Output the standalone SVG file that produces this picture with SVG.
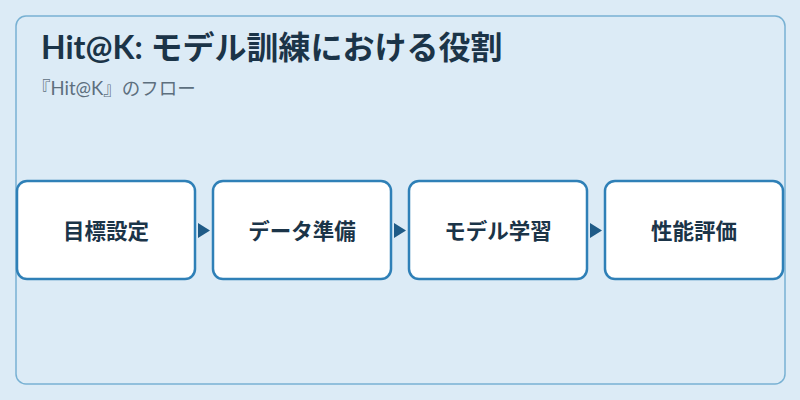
<svg xmlns="http://www.w3.org/2000/svg" width="800" height="400" viewBox="0 0 800 400">
<defs>
<style>
.frame{fill:#dcebf6;stroke:#78b1d3;stroke-width:1.5}
.node{fill:#ffffff;stroke:#2f80b7;stroke-width:2.5}
.lbl{font-family:Lato,"Noto Sans CJK JP",sans-serif;font-size:21.5px;font-weight:bold;fill:#1b3448;text-anchor:middle;dominant-baseline:central}
.title{font-family:Lato,"Noto Sans CJK JP",sans-serif;font-size:32px;font-weight:bold;fill:#1b3448}
.sub{font-family:Lato,"Noto Sans CJK JP",sans-serif;font-size:18.5px;fill:#5d6f7e}
.arrow{fill:#1f5b87}
</style>
</defs>
<rect x="0" y="0" width="800" height="400" fill="#dcebf6"/>
<rect class="frame" x="16" y="16" width="769" height="368" rx="10"/>
<text class="title" x="41" y="59">Hit@K: モデル訓練における役割</text>
<text class="sub" x="32" y="95">『Hit@K』のフロー</text>
<g id="connectors">
<polygon class="arrow" points="198,223 210,230.5 198,238"/>
<polygon class="arrow" points="394,223 406,230.5 394,238"/>
<polygon class="arrow" points="590,223 602,230.5 590,238"/>
</g>
<g id="n1"><rect class="node" x="17" y="181" width="178" height="98" rx="10"/><text class="lbl" x="106" y="231">目標設定</text></g>
<g id="n2"><rect class="node" x="213" y="181" width="178" height="98" rx="10"/><text class="lbl" x="302" y="231">データ準備</text></g>
<g id="n3"><rect class="node" x="409" y="181" width="178" height="98" rx="10"/><text class="lbl" x="498" y="231">モデル学習</text></g>
<g id="n4"><rect class="node" x="605" y="181" width="178" height="98" rx="10"/><text class="lbl" x="694" y="231">性能評価</text></g>
</svg>
